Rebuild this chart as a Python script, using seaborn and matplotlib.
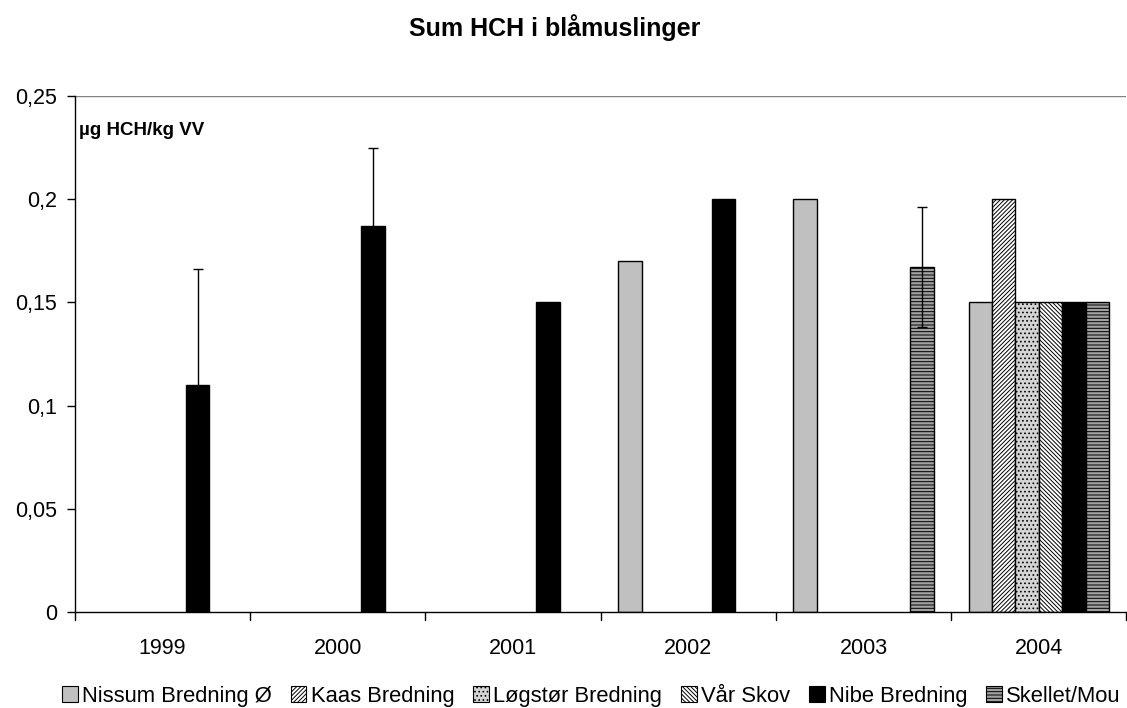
import numpy as np
import pandas as pd
import matplotlib
matplotlib.use("Agg")
import matplotlib.pyplot as plt
import matplotlib.transforms as mtransforms
import seaborn as sns

# data
years = ["1999", "2000", "2001", "2002", "2003", "2004"]
stations = ["Nissum Bredning Ø", "Kaas Bredning", "Løgstør Bredning",
            "Vår Skov", "Nibe Bredning", "Skellet/Mou"]
nissum = [None, None, None, 0.17, 0.20, 0.15]
kaas = [None, None, None, None, None, 0.20]
logstor = [None, None, None, None, None, 0.15]
vaar_skov = [None, None, None, None, None, 0.15]
nibe = [0.11, 0.187, 0.15, 0.20, None, 0.15]
skellet = [None, None, None, None, 0.167, 0.15]
# standard deviations (only where shown)
nibe_err = [0.056, 0.038, None, None, None, None]
skellet_err = [None, None, None, None, 0.029, None]

series = [nissum, kaas, logstor, vaar_skov, nibe, skellet]
errors = {4: nibe_err, 5: skellet_err}

rows = []
for st, vals in zip(stations, series):
    for yr, v in zip(years, vals):
        if v is not None:
            rows.append({"year": yr, "station": st, "value": v})
df = pd.DataFrame(rows)

sns.set_theme(style="white")
plt.rcParams["font.family"] = ["Liberation Sans", "DejaVu Sans"]
plt.rcParams["hatch.linewidth"] = 0.7
plt.rcParams["text.color"] = "black"
plt.rcParams["xtick.color"] = "black"
plt.rcParams["ytick.color"] = "black"

faces = ["#c0c0c0", "#ffffff", "#d4d4d4", "#ffffff", "#000000", "#a0a0a0"]
hatches = [None, "////////", "....", "\\\\\\\\\\\\\\\\", None, "-----"]

fig = plt.figure(figsize=(11.27, 7.08), dpi=100)
ax = fig.add_axes([0.0665, 0.1356, 0.933, 0.7288])

group_width = 0.8
sns.barplot(data=df, x="year", y="value", hue="station", order=years,
            hue_order=stations, palette=faces, width=group_width,
            errorbar=None, edgecolor="black", linewidth=1.0, saturation=1,
            ax=ax, legend=True)

# work out which station/year each bar is from its position, then hatch
# and add error bars
slot = group_width / len(stations)
for bar in ax.patches:
    if bar.get_height() <= 0:
        continue
    xc = bar.get_x() + bar.get_width() / 2
    g = int(round(xc))
    i = int(round((xc - g + group_width / 2) / slot - 0.5))
    if not (0 <= i < len(stations)):
        continue
    bar.set_facecolor(faces[i])
    bar.set_edgecolor("black")
    if hatches[i]:
        bar.set_hatch(hatches[i])
    if i in errors and errors[i][g] is not None:
        ax.errorbar(xc, bar.get_height(), yerr=errors[i][g], color="black",
                    elinewidth=1, capsize=3.5, capthick=1, zorder=5)

ax.set_ylim(0, 0.25)
ax.set_xlim(-0.5, len(years) - 0.5)
ax.set_yticks([0, 0.05, 0.1, 0.15, 0.2, 0.25])
ax.set_yticklabels(["0", "0,05", "0,1", "0,15", "0,2", "0,25"], fontsize=15.5)
ax.set_xticks(range(len(years)))
ax.set_xticklabels(years, fontsize=15.5)
ax.tick_params(axis="x", length=0, pad=19)
ax.tick_params(axis="y", left=True, length=6, width=1, color="black", pad=7)
# group separator ticks below the x axis
trans = mtransforms.blended_transform_factory(ax.transData, ax.transAxes)
for b in np.arange(-0.5, len(years), 1.0):
    ax.plot([b, b], [0, -0.0155], color="black", lw=1, clip_on=False,
            transform=trans)
ax.set_xlabel("")
ax.set_ylabel("")

for s in ["top", "right"]:
    ax.spines[s].set_visible(False)
for s in ["left", "bottom"]:
    ax.spines[s].set_color("black")
    ax.spines[s].set_linewidth(1)
ax.axhline(0.25, color="#808080", lw=1, zorder=0)

ax.text(0.004, 0.924, "µg HCH/kg VV", transform=ax.transAxes,
        fontsize=13.5, fontweight="bold", va="baseline", ha="left")
fig.text(0.4925, 0.949, "Sum HCH i blåmuslinger", fontsize=18,
         fontweight="bold", ha="center", va="baseline")

handles, labels = ax.get_legend_handles_labels()
for h, f, ht in zip(handles, faces, hatches):
    h.set_facecolor(f)
    h.set_edgecolor("black")
    h.set_linewidth(0.8)
    if ht:
        h.set_hatch(ht)
ax.get_legend().remove()
fig.legend(handles, labels, loc="center left", bbox_to_anchor=(0.055, 0.0165),
           ncol=6, frameon=False, fontsize=15.8, handlelength=0.72,
           handleheight=0.72, handletextpad=0.2, columnspacing=0.85,
           borderpad=0, borderaxespad=0)

fig.savefig("out.png", dpi=100)
